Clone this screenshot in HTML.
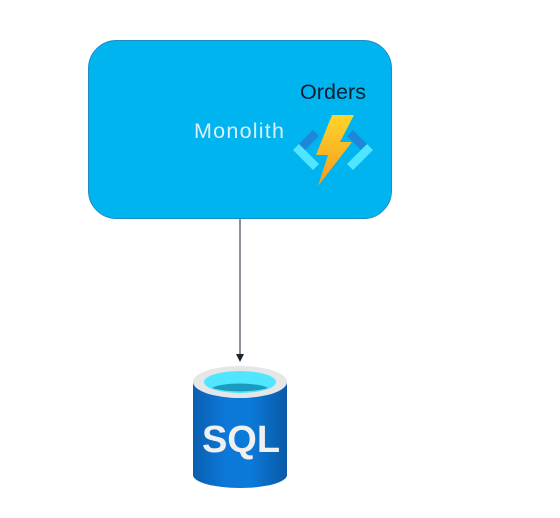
<!DOCTYPE html>
<html><head><style>
body{margin:0;background:#fff;width:560px;height:513px;overflow:hidden}
</style></head><body>
<svg width="560" height="513" viewBox="0 0 560 513" xmlns="http://www.w3.org/2000/svg">
<defs>
<linearGradient id="cyl" x1="0" x2="1" y1="0" y2="0">
<stop offset="0" stop-color="#0a5fb0"/><stop offset="0.35" stop-color="#0c78d8"/><stop offset="0.6" stop-color="#0b7ad9"/><stop offset="1" stop-color="#0a5aa8"/>
</linearGradient>
<linearGradient id="bolt" x1="0" y1="0" x2="0" y2="1">
<stop offset="0" stop-color="#fed42c"/><stop offset="1" stop-color="#f59a1c"/>
</linearGradient>
</defs>
<rect x="88.5" y="40.5" width="303" height="178" rx="28" fill="#00b4f0" stroke="#1a8fc4" stroke-width="1"/>
<text x="300" y="99" font-family="Liberation Sans, sans-serif" font-size="21.5" fill="#0c1e30" textLength="66">Orders</text>
<text x="194" y="138" font-family="Liberation Sans, sans-serif" font-size="21.5" fill="#dceefa" textLength="90">Monolith</text>
<!-- function icon -->
<path d="M313 130 L293 150 L299 156 L319 136 Z" fill="#1f86d8"/>
<path d="M293 150 L313 170 L319 164 L299 144 Z" fill="#50e6ff"/>
<path d="M353 130 L373 150 L367 156 L347 136 Z" fill="#1f86d8"/>
<path d="M373 150 L353 170 L347 164 L367 144 Z" fill="#50e6ff"/>
<path d="M332 115 L354 115 L340 142 L352 142 L318 186 L328 155 L316 155 Z" fill="url(#bolt)"/>
<line x1="240" y1="219" x2="240" y2="355" stroke="#1a2530" stroke-width="1"/>
<path d="M236 354 L244 354 L240 362 Z" fill="#1a2530"/>
<!-- SQL cylinder -->
<path d="M193 382 L193 475 A47 13 0 0 0 287 475 L287 382 Z" fill="url(#cyl)"/>
<ellipse cx="240" cy="382" rx="47" ry="16" fill="#e6e6e6"/>
<ellipse cx="240" cy="382" rx="36" ry="11" fill="#50e6ff"/>
<path d="M212 388 A30 7 0 0 1 268 388 A36 9 0 0 1 212 388 Z" fill="#1a9bc0"/>
<text x="241" y="452" text-anchor="middle" font-family="Liberation Sans, sans-serif" font-weight="bold" font-size="38" fill="#f0f0f0">SQL</text>
</svg>
</body></html>
